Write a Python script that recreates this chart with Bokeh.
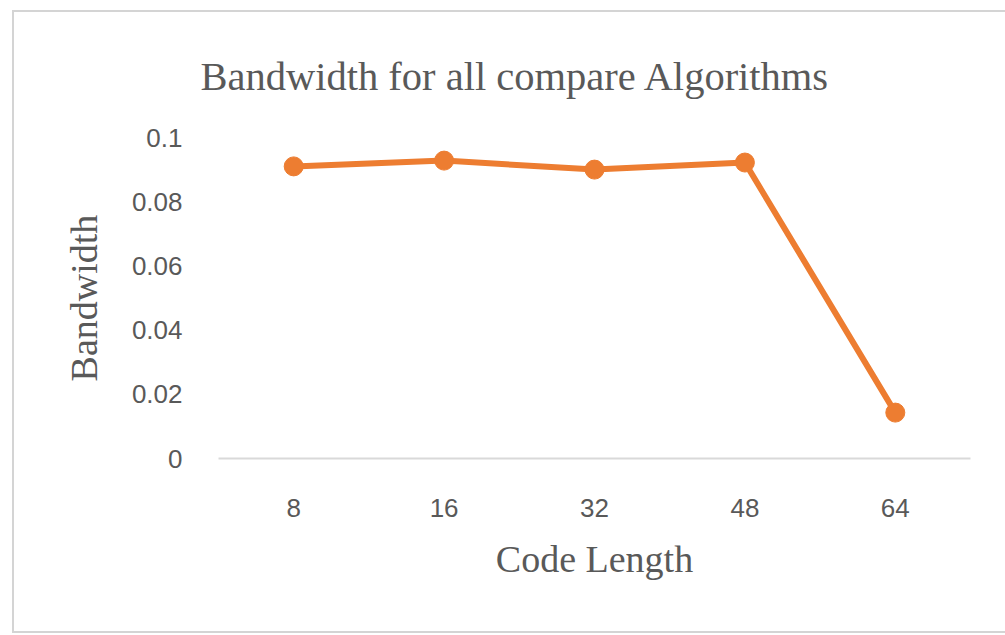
from bokeh.plotting import figure
from bokeh.models import ColumnDataSource
from bokeh.embed import file_html
from bokeh.resources import INLINE

code_lengths = ["8", "16", "32", "48", "64"]
bandwidth = [0.091, 0.0928, 0.090, 0.0922, 0.0143]
y_ticks = [0, 0.02, 0.04, 0.06, 0.08, 0.1]
y_tick_labels = {0: "0", 0.02: "0.02", 0.04: "0.04", 0.06: "0.06", 0.08: "0.08", 0.1: "0.1"}
title_text = "Bandwidth for all compare Algorithms"

src = ColumnDataSource(dict(x=code_lengths, y=bandwidth))

p = figure(x_range=code_lengths, y_range=(0, 0.1), width=991, height=619,
           frame_width=752, frame_height=321,
           min_border_left=204, min_border_right=35, min_border_top=125, min_border_bottom=173,
           output_backend="svg", toolbar_location=None, tools="", title=title_text)
p.margin = (10, 0, 0, 12)
p.styles = {"border-top": "2px solid #d4d4d4", "border-left": "2px solid #d4d4d4",
            "border-bottom": "2px solid #d4d4d4"}
p.outline_line_color = None
p.background_fill_color = "white"
p.border_fill_color = "white"
p.grid.grid_line_color = None

grey = "#595959"
p.title.align = "left"
p.title.offset = -18
p.title.standoff = 77
p.title.text_font = "Liberation Serif"
p.title.text_font_size = "40.5px"
p.title.text_font_style = "normal"
p.title.text_color = grey

p.line("x", "y", source=src, line_color="#ED7D31", line_width=6)
p.scatter("x", "y", source=src, size=19, fill_color="#ED7D31", line_color="#ED7D31")

p.yaxis.ticker = y_ticks
p.yaxis.major_label_overrides = y_tick_labels
p.yaxis.axis_line_color = None
p.yaxis.major_tick_line_color = None
p.yaxis.minor_tick_line_color = None
p.yaxis.major_label_standoff = 30
p.yaxis.major_label_text_font = "Liberation Sans"
p.yaxis.major_label_text_font_size = "26px"
p.yaxis.major_label_text_color = grey
p.yaxis.axis_label = "Bandwidth"
p.yaxis.axis_label_text_font = "Liberation Serif"
p.yaxis.axis_label_text_font_size = "38px"
p.yaxis.axis_label_text_font_style = "normal"
p.yaxis.axis_label_text_color = grey
p.yaxis.axis_label_standoff = 24

p.xaxis.axis_line_color = "#d9d9d9"
p.xaxis.axis_line_width = 2
p.xaxis.major_tick_line_color = None
p.xaxis.minor_tick_line_color = None
p.xaxis.major_label_standoff = 34
p.xaxis.major_label_text_font = "Liberation Sans"
p.xaxis.major_label_text_font_size = "26px"
p.xaxis.major_label_text_color = grey
p.xaxis.axis_label = "Code Length"
p.xaxis.axis_label_text_font = "Liberation Serif"
p.xaxis.axis_label_text_font_size = "38px"
p.xaxis.axis_label_text_font_style = "normal"
p.xaxis.axis_label_text_color = grey
p.xaxis.axis_label_standoff = 18

open("out.html", "w").write(file_html(p, INLINE))
